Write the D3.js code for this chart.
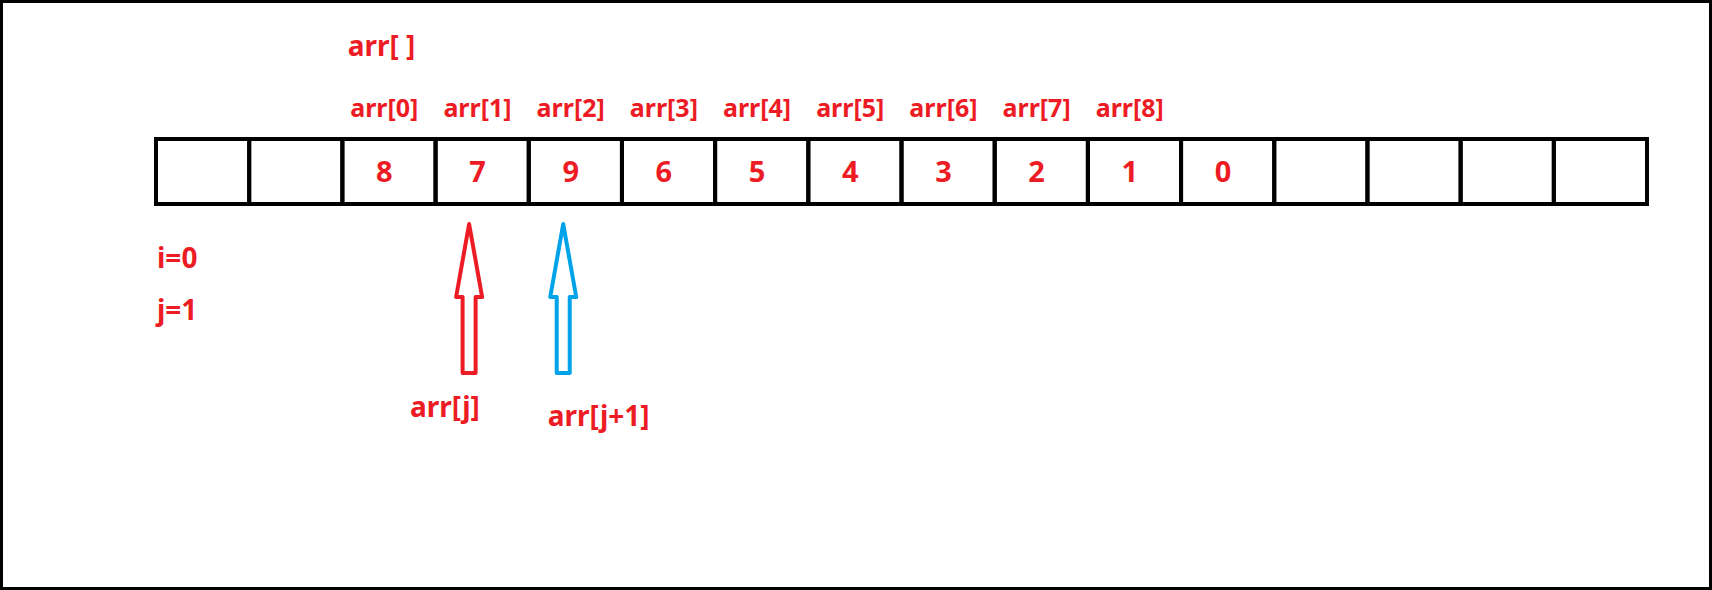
<!DOCTYPE html>
<html>
<head>
<meta charset="utf-8">
<style>
  body { margin:0; background:#fff; }
  text { font-family:"Noto Sans", "Open Sans", sans-serif; font-weight:700; fill:#ed1c24; }
</style>
</head>
<body>
<script src="https://d3js.org/d3.v7.min.js"></script>
<script>
var cellCount = 16;
var cellValues = ["", "", "8", "7", "9", "6", "5", "4", "3", "2", "1", "0", "", "", "", ""];
var indexLabels = ["arr[0]", "arr[1]", "arr[2]", "arr[3]", "arr[4]", "arr[5]", "arr[6]", "arr[7]", "arr[8]"];
var indexCells = [2, 3, 4, 5, 6, 7, 8, 9, 10];
var pointers = [
  {label: "arr[j]", pos: 3.36, color: "#ed1c24", labelPos: 3.1, labelY: 417},
  {label: "arr[j+1]", pos: 4.37, color: "#00a2e8", labelPos: 4.75, labelY: 426}
];
var loopVars = ["i=0", "j=1"];

var W = 1712, H = 590;
var svg = d3.select("body").append("svg").attr("width", W).attr("height", H);

svg.append("rect").attr("x", 1.5).attr("y", 1.5).attr("width", W - 3).attr("height", H - 3)
  .attr("fill", "none").attr("stroke", "#000").attr("stroke-width", 3);

var x = d3.scaleLinear().domain([0, cellCount]).range([156, 1647]);
var rowTop = 139, rowBottom = 204;

svg.append("g").selectAll("rect").data(d3.range(cellCount)).enter().append("rect")
  .attr("x", function(d){ return x(d); })
  .attr("y", rowTop)
  .attr("width", x(1) - x(0))
  .attr("height", rowBottom - rowTop)
  .attr("fill", "none").attr("stroke", "#000").attr("stroke-width", 4);

svg.append("g").selectAll("text").data(cellValues).enter().append("text")
  .attr("x", function(d, i){ return x(i + 0.45); })
  .attr("y", 182)
  .attr("text-anchor", "middle")
  .attr("font-size", 29)
  .text(function(d){ return d; });

svg.append("text").attr("x", x(2.42)).attr("y", 56).attr("text-anchor", "middle")
  .attr("font-size", 28).text("arr[ ]");

svg.append("g").selectAll("text").data(indexLabels).enter().append("text")
  .attr("x", function(d, i){ return x(indexCells[i] + 0.45); })
  .attr("y", 117)
  .attr("text-anchor", "middle")
  .attr("font-size", 25)
  .text(function(d){ return d; });

svg.append("g").selectAll("text").data(loopVars).enter().append("text")
  .attr("x", 157)
  .attr("y", function(d, i){ return 268 + i * 52; })
  .attr("font-size", 28)
  .text(function(d){ return d; });

pointers.forEach(function(p){
  var cx = x(p.pos), tip = 224, base = 297, end = 373, hw = 13, sw = 6.5;
  var pts = [[cx, tip], [cx + hw, base], [cx + sw, base], [cx + sw, end], [cx - sw, end], [cx - sw, base], [cx - hw, base]];
  svg.append("path").attr("d", d3.line()(pts) + "Z")
    .attr("fill", "none").attr("stroke", p.color).attr("stroke-width", 4).attr("stroke-linejoin", "round");
  svg.append("text").attr("x", x(p.labelPos)).attr("y", p.labelY).attr("text-anchor", "middle")
    .attr("font-size", 28).text(p.label);
});
</script>
</body>
</html>
